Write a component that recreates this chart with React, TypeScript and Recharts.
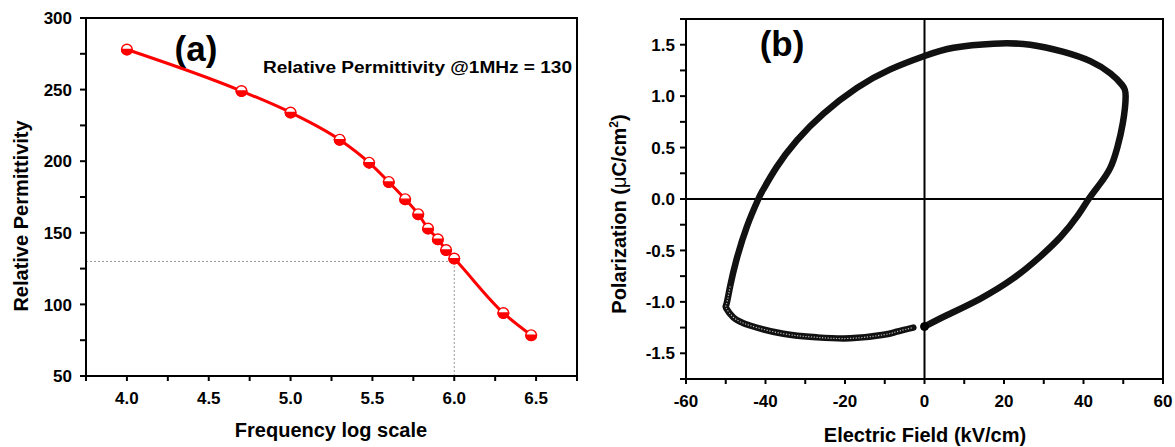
import React from 'react';
import { LineChart, Line, XAxis, YAxis, ReferenceLine, ReferenceArea, ReferenceDot, Label } from 'recharts';

const FONT = '"Liberation Sans", Arial, Helvetica, sans-serif';

// ---------- Panel (a): relative permittivity vs log frequency ----------
const freqLog = [4.0, 4.7, 5.0, 5.3, 5.48, 5.6, 5.7, 5.78, 5.84, 5.9, 5.95, 6.0, 6.3, 6.47];
const permittivity = [278, 249, 234, 215, 199, 185.5, 173.5, 163, 153, 145.5, 138, 132, 94, 78.5];
const freqMajorTicks = [4.0, 4.5, 5.0, 5.5, 6.0, 6.5];
const freqMinorTicks = [3.75, 4.25, 4.75, 5.25, 5.75, 6.25, 6.75];
const permMajorTicks = [50, 100, 150, 200, 250, 300];
const permMinorTicks = [75, 125, 175, 225, 275];
const freqDomain: [number, number] = [3.75, 6.75];
const permDomain: [number, number] = [50, 300];
const markFreq = 6.0;
const markPerm = 130;

// ---------- Panel (b): P-E hysteresis loop (ordered along the trace) ----------
const fieldE = [
  0, 5.6, 14.0, 22.4, 29.1, 34.2, 38.4, 41.3, 44.0, 46.7, 48.5, 49.9, 50.6, 49.7, 46.8,
  41.7, 35.0, 26.6, 17.4, 7.3, 0, -8.6, -17.0, -25.4, -32.1, -37.2, -40.6, -41.8, -44.7,
  -47.3, -48.9, -49.8, -49.9, -48.1, -43.9, -35.5, -27.1, -18.7, -10.3, -7.0, -2.8,
];
const polP = [
  -1.24, -1.13, -0.97, -0.77, -0.56, -0.37, -0.17, 0, 0.14, 0.3, 0.5, 0.74, 1.0, 1.11, 1.22,
  1.34, 1.43, 1.5, 1.51, 1.47, 1.39, 1.26, 1.08, 0.83, 0.57, 0.31, 0.09, 0, -0.27,
  -0.59, -0.85, -1.02, -1.06, -1.15, -1.23, -1.31, -1.345, -1.355, -1.32, -1.29, -1.25,
];
const fieldMajorTicks = [-60, -40, -20, 0, 20, 40, 60];
const fieldMinorTicks = [-50, -30, -10, 10, 30, 50];
const polMajorTicks = [-1.5, -1.0, -0.5, 0.0, 0.5, 1.0, 1.5];
const polMinorTicks = [-1.75, -1.25, -0.75, -0.25, 0.25, 0.75, 1.25, 1.75];
const fieldDomain: [number, number] = [-60, 60];
const polDomain: [number, number] = [-1.75, 1.75];
const bottomBranchStart = 30; // index where the lighter-textured lower branch begins

const permData = freqLog.map((f, i) => ({ f, eps: permittivity[i] }));
const loopData = fieldE.map((e, i) => ({ e, p: polP[i] }));
const bottomBranch = loopData.slice(bottomBranchStart);

const sortNum = (a: number, b: number) => a - b;
const freqTicks = [...freqMajorTicks, ...freqMinorTicks].sort(sortNum);
const permTicks = [...permMajorTicks, ...permMinorTicks].sort(sortNum);
const fieldTicks = [...fieldMajorTicks, ...fieldMinorTicks].sort(sortNum);
const polTicks = [...polMajorTicks, ...polMinorTicks].sort(sortNum);

const isIn = (arr: number[], v: number) => arr.some((a) => Math.abs(a - v) < 1e-9);

const axisLineStyle = { stroke: '#000', strokeWidth: 2 };
const tickLineStyle = { stroke: '#000', strokeWidth: 2 };

const makeTick = (majors: number[], fmt: (v: number) => string, vertical: boolean) => (props: any) => {
  const { x, y, payload } = props;
  const v = payload?.value;
  if (v == null || !isIn(majors, v)) return <g />;
  return (
    <text
      x={x}
      y={y}
      dy={vertical ? '0.36em' : '0.71em'}
      textAnchor={vertical ? 'end' : 'middle'}
      fontFamily={FONT}
      fontWeight="bold"
      fontSize={17}
      fill="#000"
    >
      {fmt(v)}
    </text>
  );
};

const HalfDot = (props: any) => {
  const { cx, cy } = props;
  if (cx == null || cy == null) return null;
  const r = 5.3;
  return (
    <g>
      <circle cx={cx} cy={cy} r={r} fill="#ffffff" stroke="#ff0000" strokeWidth={1.4} />
      <path d={`M ${cx - r} ${cy} A ${r} ${r} 0 0 0 ${cx + r} ${cy} Z`} fill="#ff0000" stroke="#ff0000" strokeWidth={1.4} />
    </g>
  );
};

const titleProps = { fontFamily: FONT, fontWeight: 'bold', fill: '#000' } as const;

export default function App() {
  return (
    <div style={{ position: 'absolute', left: 0, top: 0, width: 1175, height: 447, background: '#fff' }}>
      <div style={{ position: 'absolute', left: 0, top: 0 }}>
        <LineChart width={600} height={447} data={permData} margin={{ top: 18, right: 23, bottom: 41, left: 36 }}>
          <XAxis
            dataKey="f"
            type="number"
            domain={freqDomain}
            ticks={freqTicks}
            interval={0}
            allowDataOverflow
            height={30}
            tickSize={5}
            tickMargin={11}
            tick={makeTick(freqMajorTicks, (v) => v.toFixed(1), false)}
            axisLine={axisLineStyle}
            tickLine={tickLineStyle}
          />
          <YAxis
            type="number"
            domain={permDomain}
            ticks={permTicks}
            interval={0}
            allowDataOverflow
            width={50}
            tickSize={6}
            tickMargin={8}
            tick={makeTick(permMajorTicks, (v) => String(v), true)}
            axisLine={axisLineStyle}
            tickLine={tickLineStyle}
          />
          <ReferenceLine
            segment={[{ x: freqDomain[0], y: markPerm }, { x: markFreq, y: markPerm }]}
            stroke="#9a9a9a"
            strokeWidth={1}
            strokeDasharray="2 2"
          />
          <ReferenceLine
            segment={[{ x: markFreq, y: permDomain[0] }, { x: markFreq, y: markPerm }]}
            stroke="#9a9a9a"
            strokeWidth={1}
            strokeDasharray="2 2"
          />
          <ReferenceArea
            x1={freqDomain[0]}
            x2={freqDomain[1]}
            y1={permDomain[0]}
            y2={permDomain[1]}
            fill="none"
            fillOpacity={0}
            stroke="#000"
            strokeWidth={2}
            ifOverflow="visible"
          >
            <Label
              content={() => (
                <g>
                  <text {...titleProps} fontSize={20} textAnchor="middle" transform="translate(28,216) rotate(-90)">
                    Relative Permittivity
                  </text>
                  <text {...titleProps} fontSize={20} textAnchor="middle" x={331} y={437}>
                    Frequency log scale
                  </text>
                  <text {...titleProps} fontSize={35} textAnchor="middle" x={196} y={61}>
                    (a)
                  </text>
                  <text {...titleProps} fontSize={16} textAnchor="start" x={263} y={72.5} textLength={309} lengthAdjust="spacingAndGlyphs">
                    Relative Permittivity @1MHz = 130
                  </text>
                </g>
              )}
            />
          </ReferenceArea>
          <Line
            dataKey="eps"
            type="monotone"
            stroke="#ff0000"
            strokeWidth={3}
            dot={<HalfDot />}
            activeDot={false}
            isAnimationActive={false}
          />
        </LineChart>
      </div>

      <div style={{ position: 'absolute', left: 600, top: 0 }}>
        <LineChart width={575} height={447} margin={{ top: 19, right: 12, bottom: 38, left: 36 }}>
          <XAxis
            dataKey="e"
            type="number"
            domain={fieldDomain}
            ticks={fieldTicks}
            interval={0}
            allowDataOverflow
            height={30}
            tickSize={5}
            tickMargin={11}
            tick={makeTick(fieldMajorTicks, (v) => String(v), false)}
            axisLine={axisLineStyle}
            tickLine={tickLineStyle}
          />
          <YAxis
            type="number"
            domain={polDomain}
            ticks={polTicks}
            interval={0}
            allowDataOverflow
            width={50}
            tickSize={6}
            tickMargin={5}
            tick={makeTick(polMajorTicks, (v) => v.toFixed(1), true)}
            axisLine={axisLineStyle}
            tickLine={tickLineStyle}
          />
          <ReferenceLine x={0} stroke="#000" strokeWidth={2} />
          <ReferenceLine y={0} stroke="#000" strokeWidth={2} />
          <ReferenceArea
            x1={fieldDomain[0]}
            x2={fieldDomain[1]}
            y1={polDomain[0]}
            y2={polDomain[1]}
            fill="none"
            fillOpacity={0}
            stroke="#000"
            strokeWidth={2}
            ifOverflow="visible"
          >
            <Label
              content={() => (
                <g>
                  <text {...titleProps} fontSize={20} textAnchor="middle" transform="translate(26,214) rotate(-90)">
                    Polarization (<tspan fontWeight="normal">μ</tspan>C/cm
                    <tspan fontSize={12} dy={-8}>2</tspan>
                    <tspan dy={8}>)</tspan>
                  </text>
                  <text {...titleProps} fontSize={20} textAnchor="middle" x={325} y={442}>
                    Electric Field (kV/cm)
                  </text>
                  <text {...titleProps} fontSize={35} textAnchor="middle" x={182} y={56}>
                    (b)
                  </text>
                </g>
              )}
            />
          </ReferenceArea>
          <Line
            data={loopData}
            dataKey="p"
            type="natural"
            stroke="#111111"
            strokeWidth={6.5}
            strokeLinecap="round"
            strokeLinejoin="round"
            dot={false}
            activeDot={false}
            isAnimationActive={false}
          />
          <Line
            data={bottomBranch}
            dataKey="p"
            type="natural"
            stroke="#bdbdbd"
            strokeWidth={1.2}
            strokeDasharray="1.2 1.6"
            dot={false}
            activeDot={false}
            isAnimationActive={false}
          />
          <ReferenceDot x={fieldE[0]} y={polP[0]} r={4} fill="#000" stroke="#000" ifOverflow="visible" />
        </LineChart>
      </div>
    </div>
  );
}
